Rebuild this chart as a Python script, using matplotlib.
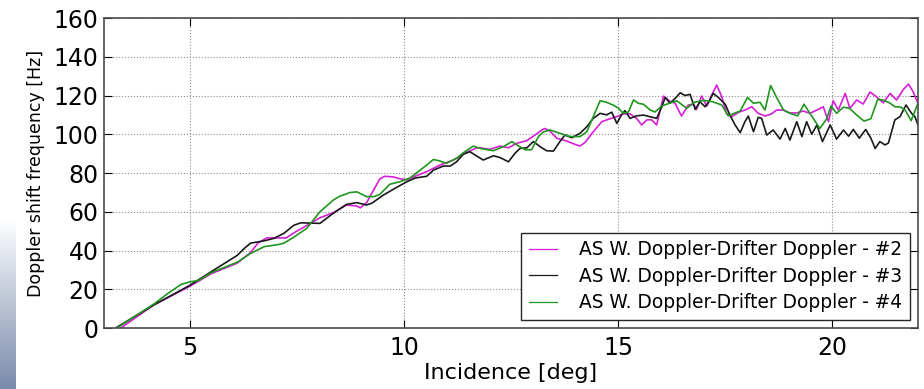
import numpy as np
import matplotlib
matplotlib.use('Agg')
import matplotlib.pyplot as plt

# values (incidence deg, doppler shift Hz)
x_m = [3.39, 4.17, 5.0, 5.5, 6.11, 6.42, 6.6, 6.8, 7.25, 7.5, 7.7, 8.04, 8.35, 8.66, 8.9, 8.98,
       9.13, 9.29, 9.44, 9.55, 9.75, 9.91, 10.07, 10.26, 10.53, 10.84, 11.15, 11.46, 11.7, 11.78,
       12.01, 12.24, 12.44, 12.63, 12.87, 13.06, 13.22, 13.29, 13.41, 13.57, 13.8, 13.99, 14.11,
       14.23, 14.42, 14.62, 14.77, 14.97, 15.12, 15.28, 15.43, 15.55, 15.67, 15.78, 15.9, 16.06,
       16.21, 16.33, 16.48, 16.64, 16.76, 16.83, 16.95, 17.07, 17.18, 17.3, 17.42, 17.53, 17.65,
       17.81, 17.96, 18.12, 18.27, 18.43, 18.58, 18.7, 18.86, 19.01, 19.17, 19.32, 19.48, 19.64,
       19.79, 19.91, 20.02, 20.14, 20.3, 20.41, 20.57, 20.72, 20.88, 21.04, 21.19, 21.35, 21.5,
       21.66, 21.78, 21.89, 22.0]
y_m = [0, 12, 21.5, 28, 33.5, 39, 44, 46.5, 46.5, 50, 52.5, 56.9, 59.5, 63.5, 63, 62,
       64.7, 71.2, 77, 78.3, 78, 77, 76.5, 78.3, 80.7, 84.1, 86.7, 90.5, 93, 93,
       92.2, 93.9, 93, 95.3, 96.7, 99.6, 102.2, 103, 101.6, 97.9, 96.5, 94.8, 93.9,
       95.8, 101.3, 106.5, 107.7, 109.1, 110.5, 110.5, 108.2, 104.8, 107.4, 107.5, 104.8, 119.7,
       117, 116, 109.4, 115.1, 115.5, 112.8, 119.7, 114.5, 120, 125.4, 119.4, 110.8, 109.1,
       111.3, 112.5, 114.2, 110.8, 109.4, 110.5, 112.5, 112.5, 111, 111, 112, 110.8, 112.5,
       114.2, 106.5, 117.3, 112.5, 121.1, 113.4, 117.7, 115.6, 121.8, 119.2, 116.2, 121.1, 117.7,
       123.2, 125.9, 121.8, 115.9]

x_k = [3.27, 4.17, 5.0, 5.57, 6.11, 6.27, 6.42, 6.74, 6.97, 7.2, 7.43, 7.59, 8.04, 8.35, 8.66,
       8.9, 9.13, 9.25, 9.52, 9.83, 10.07, 10.26, 10.53, 10.69, 10.92, 11.08, 11.23, 11.39, 11.54,
       11.66, 11.85, 12.09, 12.24, 12.44, 12.59, 12.71, 12.87, 13.02, 13.18, 13.33, 13.49, 13.64,
       13.76, 13.92, 14.11, 14.27, 14.42, 14.58, 14.73, 14.85, 14.97, 15.08, 15.16, 15.28, 15.43,
       15.59, 15.9, 16.02, 16.1, 16.21, 16.33, 16.45, 16.56, 16.68, 16.8, 16.91, 17.03, 17.11,
       17.22, 17.34, 17.5, 17.61, 17.73, 17.85, 17.96, 18.04, 18.16, 18.27, 18.35, 18.47, 18.62,
       18.78, 18.9, 19.01, 19.17, 19.29, 19.4, 19.52, 19.64, 19.77, 19.95, 20.1, 20.26, 20.38,
       20.49, 20.63, 20.78, 20.9, 21.0, 21.11, 21.23, 21.31, 21.46, 21.58, 21.72, 21.85, 21.93, 22.0]
y_k = [0, 12, 22, 30, 37.5, 41, 43.8, 45, 46.3, 48.9, 53, 54.3, 54, 59.2, 63.8,
       64.7, 63.5, 64.4, 68.6, 72.6, 75.5, 77.4, 78.3, 81.5, 83.6, 83.6, 85.8, 89.8, 91,
       89.3, 86.7, 88.9, 88, 85.8, 90.1, 92.7, 93, 96.2, 93.6, 91.5, 91.3, 96.2,
       99.6, 98.2, 100.5, 103.9, 108.2, 110.8, 110, 111.4, 105.6, 110, 112.2, 108.2, 109.5,
       109.9, 108.2, 114.2, 119, 116, 118.5, 121.4, 120, 120.6, 112.8, 116.8, 114.2, 116.5,
       121.1, 119, 115.5, 109.9, 104.8, 100.8, 106.5, 109.4, 101.3, 108.7, 108.2, 99.6, 102.2,
       97.5, 103, 97, 106.5, 98.8, 106.5, 100, 104.8, 96.2, 104.8, 97.5, 102.2, 99,
       102.5, 98, 102.5, 98, 92.7, 96.2, 94.5, 95.5, 107.4, 109.1, 115.1, 110.8, 109, 104.8]

x_g = [3.3, 4.17, 4.5, 4.8, 5.0, 5.2, 5.35, 5.5, 6.11, 6.42, 6.74, 7.05, 7.2, 7.41, 7.73, 8.04,
       8.35, 8.5, 8.74, 8.9, 9.13, 9.3, 9.44, 9.67, 9.91, 10.14, 10.38, 10.53, 10.69, 10.84,
       10.99, 11.23, 11.39, 11.62, 11.78, 12.09, 12.32, 12.52, 12.67, 12.83, 12.98, 13.14, 13.26,
       13.41, 13.64, 13.88, 14.11, 14.27, 14.42, 14.58, 14.73, 14.89, 15.01, 15.12, 15.24, 15.36,
       15.47, 15.59, 15.75, 15.86, 16.02, 16.13, 16.37, 16.6, 16.78, 16.99, 17.2, 17.42, 17.57,
       17.71, 17.85, 18.02, 18.16, 18.31, 18.43, 18.56, 18.7, 18.86, 19.01, 19.19, 19.34, 19.5,
       19.71, 19.87, 19.97, 20.1, 20.26, 20.4, 20.57, 20.74, 20.9, 21.06, 21.21, 21.35, 21.46,
       21.6, 21.7, 21.84, 22.0]
y_g = [0, 12.5, 18, 22.5, 23.8, 24.5, 26.5, 28.5, 34, 38.5, 42, 43, 43.8, 46.6, 51.4, 60,
       66, 68, 69.9, 70.3, 67.8, 67.8, 69, 74.2, 75.5, 77.4, 81.5, 84.1, 87, 86.2,
       85, 87.6, 90.5, 93.9, 92.7, 91.5, 93.6, 96.2, 94, 92, 92, 98.8, 101.3,
       102.2, 100.5, 98.8, 98.8, 101.3, 109.1, 117.3, 116.5, 115, 113.4, 110.8, 111.5, 117.7,
       116, 115.5, 112.5, 111.5, 114.6, 115.5, 117.3, 113.4, 116.5, 117.5, 116.8, 115.1, 109.5,
       110.8, 112, 119, 116, 116.5, 112.5, 125.2, 119, 112.5, 110.8, 109.5, 115.5, 110,
       103, 108, 114.6, 110.8, 114, 113.4, 109.9, 106.8, 108, 118, 117.5, 116, 114.2,
       114, 112.5, 107, 116]

labels = ['AS W. Doppler-Drifter Doppler - #2',
          'AS W. Doppler-Drifter Doppler - #3',
          'AS W. Doppler-Drifter Doppler - #4']

fig = plt.figure(figsize=(9.24, 3.89), dpi=100)
fig.subplots_adjust(left=0.1126, right=0.9935, top=0.9537, bottom=0.1568)
ax = fig.add_subplot(111)

ax.plot(x_m, y_m, color='#d81ed8', lw=1.2, label=labels[0])
ax.plot(x_k, y_k, color='#1a1a1a', lw=1.2, label=labels[1])
ax.plot(x_g, y_g, color='#1f961f', lw=1.2, label=labels[2])

ax.set_xlim(3, 22)
ax.set_ylim(0, 160)
ax.set_xticks([5, 10, 15, 20])
ax.set_yticks(np.arange(0, 161, 20))
ax.grid(True, color='0.55', linestyle=':', linewidth=0.8)
ax.tick_params(direction='in', top=True, right=True, labelsize=17, length=6, pad=6)
ax.tick_params(axis='y', pad=4)
for s in ax.spines.values():
    s.set_color('0.3')
    s.set_linewidth(1.2)

ax.set_xlabel('Incidence [deg]', fontsize=16, labelpad=2)
ax.set_ylabel('Doppler shift frequency [Hz]', fontsize=12.5, labelpad=6)

leg = ax.legend(loc='lower right', fontsize=13.4, fancybox=False, framealpha=1,
                edgecolor='0.15', handlelength=1.5, handletextpad=1.2,
                borderaxespad=0.45, labelspacing=0.4, borderpad=0.4)
leg.get_frame().set_linewidth(1.0)
for h in leg.get_lines():
    h.set_linewidth(0.9)

# bluish strip at the left edge of the slide
strip = fig.add_axes([0, 0, 16 / 924, 172 / 389])
grad = np.linspace(0, 1, 100).reshape(-1, 1)
strip.imshow(grad, aspect='auto', cmap=matplotlib.colors.LinearSegmentedColormap.from_list(
    'strip', ['#ffffff', '#7a8bab']), extent=[0, 1, 1, 0])
strip.axis('off')

fig.savefig('out.png', dpi=100)
